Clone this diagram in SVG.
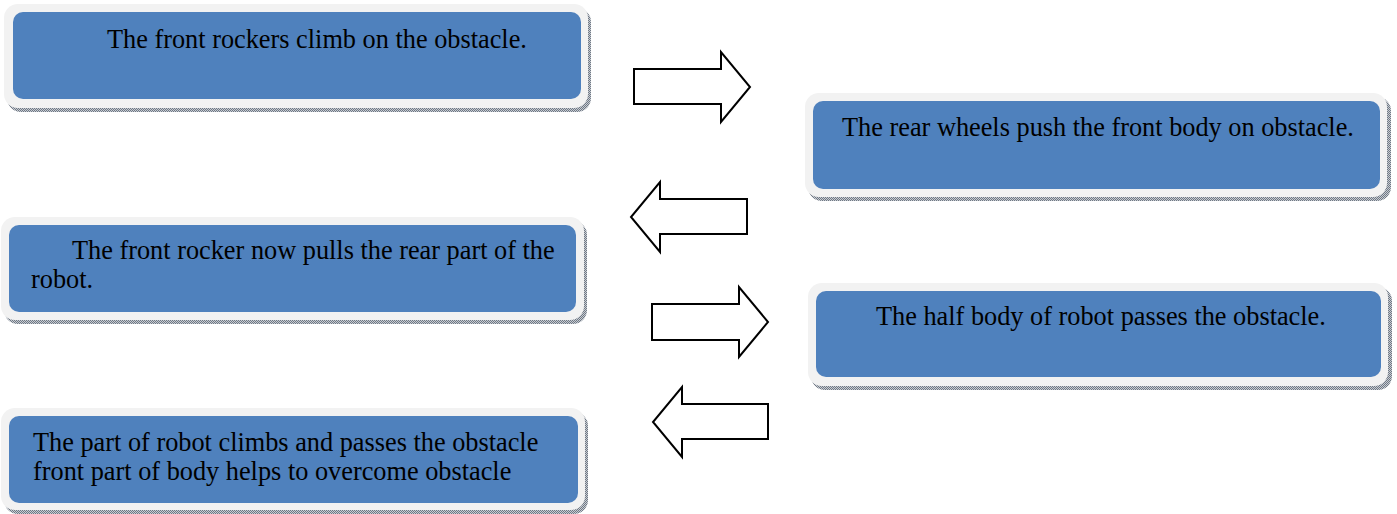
<svg xmlns="http://www.w3.org/2000/svg" width="1397" height="514" viewBox="0 0 1397 514">
<defs>
<pattern id="dots" width="2" height="2" patternUnits="userSpaceOnUse">
<rect width="2" height="2" fill="#c8ccd2"/>
<rect width="1" height="1" fill="#6f7884"/>
<rect x="1" y="1" width="1" height="1" fill="#6f7884"/>
</pattern>
</defs>
<style>
.sh{fill:url(#dots)}
.out{fill:#f2f2f2}
.in{fill:#4f81bd}
.t{font-family:"Liberation Serif","Times New Roman",serif;font-size:26.3px;fill:#000}
.ar{fill:#fff;stroke:#000;stroke-width:2;stroke-linejoin:miter}
</style>
<rect width="1397" height="514" fill="#fff"/>
<g id="node1">
<rect class="sh" x="7" y="8" width="584" height="104" rx="14"/>
<rect class="out" x="4" y="4" width="584" height="104" rx="14"/>
<rect class="in" x="13" y="12" width="568" height="87" rx="10"/>
<text class="t" x="107" y="48">The front rockers climb on the obstacle.</text>
</g>
<g id="node2">
<rect class="sh" x="808" y="97" width="583" height="104" rx="14"/>
<rect class="out" x="805" y="93" width="582" height="104" rx="14"/>
<rect class="in" x="813" y="101" width="567" height="88" rx="10"/>
<text class="t" x="842" y="136">The rear wheels push the front body on obstacle.</text>
</g>
<g id="node3">
<rect class="sh" x="4" y="221" width="583" height="103" rx="14"/>
<rect class="out" x="1" y="217" width="583" height="103" rx="14"/>
<rect class="in" x="9" y="225" width="567" height="87" rx="10"/>
<text class="t"><tspan x="72" y="259">The front rocker now pulls the rear part of the</tspan><tspan x="31" y="288">robot.</tspan></text>
</g>
<g id="node4">
<rect class="sh" x="811" y="287" width="581" height="103" rx="14"/>
<rect class="out" x="808" y="283" width="580" height="103" rx="14"/>
<rect class="in" x="816" y="291" width="565" height="86" rx="10"/>
<text class="t" x="876" y="325">The half body of robot passes the obstacle.</text>
</g>
<g id="node5">
<rect class="sh" x="4" y="412" width="584" height="102" rx="14"/>
<rect class="out" x="1" y="408" width="584" height="102" rx="14"/>
<rect class="in" x="9" y="416" width="569" height="87" rx="10"/>
<text class="t"><tspan x="33" y="451">The part of robot climbs and passes the obstacle</tspan><tspan x="33" y="480">front part of body helps to overcome obstacle</tspan></text>
</g>
<g id="connectors">
<polygon class="ar" points="634,69 721,69 721,52 750,87 721,122 721,104 634,104"/>
<polygon class="ar" points="747,199 660,199 660,182 631,217 660,252 660,234 747,234"/>
<polygon class="ar" points="652,304 739,304 739,287 768,322 739,357 739,340 652,340"/>
<polygon class="ar" points="768,404 682,404 682,387 653,422 682,457 682,439 768,439"/>
</g>
</svg>
